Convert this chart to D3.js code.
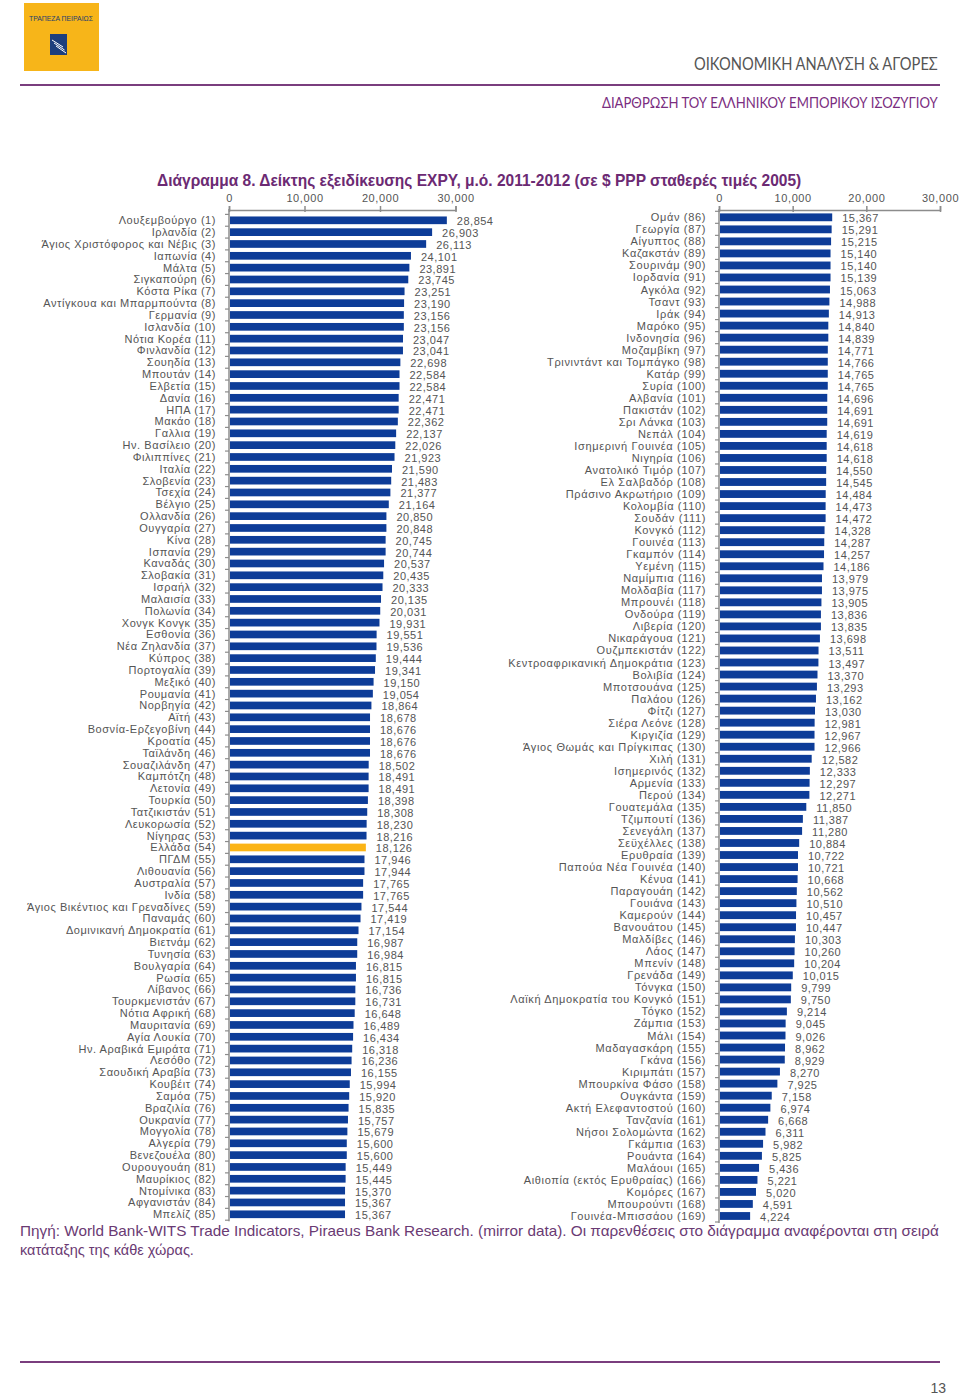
<!DOCTYPE html>
<html>
<head>
<meta charset="utf-8">
<script src="https://cdn.jsdelivr.net/npm/d3@7"></script>
<style>
  html, body { margin: 0; padding: 0; background: #fff; }
  svg { display: block; }
</style>
</head>
<body>
<div id="chart"></div>
<script>
// ---- DATA ----
const leftCategories = [
  "Λουξεμβούργο (1)", "Ιρλανδία (2)", "Άγιος Χριστόφορος και Νέβις (3)", "Ιαπωνία (4)", "Μάλτα (5)",
  "Σιγκαπούρη (6)", "Κόστα Ρίκα (7)", "Αντίγκουα και Μπαρμπούντα (8)", "Γερμανία (9)", "Ισλανδία (10)",
  "Νότια Κορέα (11)", "Φινλανδία (12)", "Σουηδία (13)", "Μπουτάν (14)", "Ελβετία (15)",
  "Δανία (16)", "ΗΠΑ (17)", "Μακάο (18)", "Γαλλια (19)", "Ην. Βασίλειο (20)",
  "Φιλιππίνες (21)", "Ιταλία (22)", "Σλοβενία (23)", "Τσεχία (24)", "Βέλγιο (25)",
  "Ολλανδία (26)", "Ουγγαρία (27)", "Κίνα (28)", "Ισπανία (29)", "Καναδάς (30)",
  "Σλοβακία (31)", "Ισραήλ (32)", "Μαλαισία (33)", "Πολωνία (34)", "Χονγκ Κονγκ (35)",
  "Εσθονία (36)", "Νέα Ζηλανδία (37)", "Κύπρος (38)", "Πορτογαλία (39)", "Μεξικό (40)",
  "Ρουμανία (41)", "Νορβηγία (42)", "Αϊτή (43)", "Βοσνία-Ερζεγοβίνη (44)", "Κροατία (45)",
  "Ταϊλάνδη (46)", "Σουαζιλάνδη (47)", "Καμπότζη (48)", "Λετονία (49)", "Τουρκία (50)",
  "Τατζικιστάν (51)", "Λευκορωσία (52)", "Νίγηρας (53)", "Ελλάδα (54)", "ΠΓΔΜ (55)",
  "Λιθουανία (56)", "Αυστραλία (57)", "Ινδία (58)", "Άγιος Βικέντιος και Γρεναδίνες (59)", "Παναμάς (60)",
  "Δομινικανή Δημοκρατία (61)", "Βιετνάμ (62)", "Τυνησία (63)", "Βουλγαρία (64)", "Ρωσία (65)",
  "Λίβανος (66)", "Τουρκμενιστάν (67)", "Νότια Αφρική (68)", "Μαυριτανία (69)", "Αγία Λουκία (70)",
  "Ην. Αραβικά Εμιράτα (71)", "Λεσόθο (72)", "Σαουδική Αραβία (73)", "Κουβέιτ (74)", "Σαμόα (75)",
  "Βραζιλία (76)", "Ουκρανία (77)", "Μογγολία (78)", "Αλγερία (79)", "Βενεζουέλα (80)",
  "Ουρουγουάη (81)", "Μαυρίκιος (82)", "Ντομίνικα (83)", "Αφγανιστάν (84)", "Μπελίζ (85)"
];
const leftValues = [
  28854, 26903, 26113, 24101, 23891, 23745, 23251, 23190, 23156, 23156,
  23047, 23041, 22698, 22584, 22584, 22471, 22471, 22362, 22137, 22026,
  21923, 21590, 21483, 21377, 21164, 20850, 20848, 20745, 20744, 20537,
  20435, 20333, 20135, 20031, 19931, 19551, 19536, 19444, 19341, 19150,
  19054, 18864, 18678, 18676, 18676, 18676, 18502, 18491, 18491, 18398,
  18308, 18230, 18216, 18126, 17946, 17944, 17765, 17765, 17544, 17419,
  17154, 16987, 16984, 16815, 16815, 16736, 16731, 16648, 16489, 16434,
  16318, 16236, 16155, 15994, 15920, 15835, 15757, 15679, 15600, 15600,
  15449, 15445, 15370, 15367, 15367
];
const rightCategories = [
  "Ομάν (86)", "Γεωργία (87)", "Αίγυπτος (88)", "Καζακστάν (89)", "Σουρινάμ (90)",
  "Ιορδανία (91)", "Αγκόλα (92)", "Τσαντ (93)", "Ιράκ (94)", "Μαρόκο (95)",
  "Ινδονησία (96)", "Μοζαμβίκη (97)", "Τρινιντάντ και Τομπάγκο (98)", "Κατάρ (99)", "Συρία (100)",
  "Αλβανία (101)", "Πακιστάν (102)", "Σρι Λάνκα (103)", "Νεπάλ (104)", "Ισημερινή Γουινέα (105)",
  "Νιγηρία (106)", "Ανατολικό Τιμόρ (107)", "Ελ Σαλβαδόρ (108)", "Πράσινο Ακρωτήριο (109)", "Κολομβία (110)",
  "Σουδάν (111)", "Κονγκό (112)", "Γουινέα (113)", "Γκαμπόν (114)", "Υεμένη (115)",
  "Ναμίμπια (116)", "Μολδαβία (117)", "Μπρουνέι (118)", "Ονδούρα (119)", "Λιβερία (120)",
  "Νικαράγουα (121)", "Ουζμπεκιστάν (122)", "Κεντροαφρικανική Δημοκράτια (123)", "Βολιβία (124)", "Μποτσουάνα (125)",
  "Παλάου (126)", "Φίτζι (127)", "Σιέρα Λεόνε (128)", "Κιργιζία (129)", "Άγιος Θωμάς και Πρίγκιπας (130)",
  "Χιλή (131)", "Ισημερινός (132)", "Αρμενία (133)", "Περού (134)", "Γουατεμάλα (135)",
  "Τζιμπουτί (136)", "Σενεγάλη (137)", "Σεϋχέλλες (138)", "Ερυθραία (139)", "Παπούα Νέα Γουινέα (140)",
  "Κένυα (141)", "Παραγουάη (142)", "Γουιάνα (143)", "Καμερούν (144)", "Βανουάτου (145)",
  "Μαλδίβες (146)", "Λάος (147)", "Μπενίν (148)", "Γρενάδα (149)", "Τόνγκα (150)",
  "Λαϊκή Δημοκρατία του Κονγκό (151)", "Τόγκο (152)", "Ζάμπια (153)", "Μάλι (154)", "Μαδαγασκάρη (155)",
  "Γκάνα (156)", "Κιριμπάτι (157)", "Μπουρκίνα Φάσο (158)", "Ουγκάντα (159)", "Ακτή Ελεφαντοστού (160)",
  "Τανζανία (161)", "Νήσοι Σολομώντα (162)", "Γκάμπια (163)", "Ρουάντα (164)", "Μαλάουι (165)",
  "Αιθιοπία (εκτός Ερυθραίας) (166)", "Κομόρες (167)", "Μπουρούντι (168)", "Γουινέα-Μπισσάου (169)"
];
const rightValues = [
  15367, 15291, 15215, 15140, 15140, 15139, 15063, 14988, 14913, 14840,
  14839, 14771, 14766, 14765, 14765, 14696, 14691, 14691, 14619, 14618,
  14618, 14550, 14545, 14484, 14473, 14472, 14328, 14287, 14257, 14186,
  13979, 13975, 13905, 13836, 13835, 13698, 13511, 13497, 13370, 13293,
  13162, 13030, 12981, 12967, 12966, 12582, 12333, 12297, 12271, 11850,
  11387, 11280, 10884, 10722, 10721, 10668, 10562, 10510, 10457, 10447,
  10303, 10260, 10204, 10015, 9799, 9750, 9214, 9045, 9026, 8962,
  8929, 8270, 7925, 7158, 6974, 6668, 6311, 5982, 5825, 5436,
  5221, 5020, 4591, 4224
];
const tickValues = [0, 10000, 20000, 30000];
const highlightCategory = "Ελλάδα (54)";

const titleText = "Διάγραμμα 8. Δείκτης εξειδίκευσης EXPY, μ.ό. 2011-2012 (σε $ PPP σταθερές τιμές 2005)";
const headerText1 = "ΟΙΚΟΝΟΜΙΚΗ ΑΝΑΛΥΣΗ & ΑΓΟΡΕΣ";
const headerText2 = "ΔΙΑΡΘΡΩΣΗ ΤΟΥ ΕΛΛΗΝΙΚΟΥ ΕΜΠΟΡΙΚΟΥ ΙΣΟΖΥΓΙΟΥ";
const logoText = "ΤΡΑΠΕΖΑ ΠΕΙΡΑΙΩΣ";
const sourceLine1 = "Πηγή: World Bank-WITS Trade Indicators, Piraeus Bank Research. (mirror data). Οι παρενθέσεις στο διάγραμμα αναφέρονται στη σειρά";
const sourceLine2 = "κατάταξης της κάθε χώρας.";
const pageNumber = "13";

// ---- DRAW ----
const W = 960, H = 1397;
const svg = d3.select("#chart").append("svg").attr("width", W).attr("height", H);

const purple = "#7a3d7e";
const titlePurple = "#6c2a73";
const barBlue = "#0d3c98";
const greeceColor = "#fbb416";
const axisGrey = "#8c8c8c";
const textGrey = "#555555";
const fmt = d3.format(",");

// Draws text condensed horizontally to a target width (like a narrow font)
function fitText(str, x, y, width, anchor, attrs) {
  const g = svg.append("g");
  const t = g.append("text").attr("x", 0).attr("y", 0).text(str);
  Object.entries(attrs).forEach(([k, v]) => t.attr(k, v));
  const w = t.node().getComputedTextLength();
  const s = width / w;
  const left = anchor === "end" ? x - width : x;
  g.attr("transform", `translate(${left},${y}) scale(${s},1)`);
  return t;
}

// Header: logo
svg.append("rect").attr("x", 24).attr("y", 3).attr("width", 75).attr("height", 68).attr("fill", "#f7b519");
fitText(logoText, 29, 21, 64, "start", {
  "font-family": "Liberation Sans, sans-serif", "font-size": 6.5, "fill": "#263f6e"
});
svg.append("rect").attr("x", 50).attr("y", 34).attr("width", 17).attr("height", 21).attr("fill", "#1d3f7d");
[0, 1, 2].forEach(i => {
  svg.append("line").attr("x1", 52 + i * 2).attr("y1", 40 + i * 3).attr("x2", 63 + i * 1.5).attr("y2", 47 + i * 3)
    .attr("stroke", "#ffffff").attr("stroke-width", 1);
});

fitText(headerText1, 938, 70, 244, "end", {
  "font-family": "Lato, Open Sans, sans-serif", "font-size": 17, "fill": "#555"
});
svg.append("line").attr("x1", 20).attr("x2", 940).attr("y1", 85).attr("y2", 85)
  .attr("stroke", purple).attr("stroke-width", 2);
fitText(headerText2, 938, 108, 336, "end", {
  "font-family": "Lato, Open Sans, sans-serif", "font-size": 14.5, "fill": "#7a2d80"
});

// Title
fitText(titleText, 157, 186, 645, "start", {
  "font-family": "Liberation Sans, sans-serif", "font-weight": "bold", "font-size": 16, "fill": titlePurple
});

function panel(cats, vals, x0, x1, yTop, yBot, labelRight, labelSpacing) {
  const x = d3.scaleLinear().domain([0, 30000]).range([x0, x1]);
  const y = d3.scaleBand().domain(cats).range([yTop, yBot]).paddingInner(0.35).paddingOuter(0.175);
  const g = svg.append("g");

  // top axis
  const ax = g.append("g").attr("transform", `translate(0,${210})`)
    .call(d3.axisTop(x).tickValues(tickValues).tickSize(4).tickFormat(d3.format(",")));
  ax.select(".domain").attr("stroke", axisGrey).attr("stroke-width", 1.5);
  ax.selectAll(".tick line").attr("stroke", axisGrey).attr("stroke-width", 1.5).attr("y1", 2).attr("y2", -4);
  ax.selectAll(".tick text").attr("font-family", "Liberation Sans, Arial, sans-serif").attr("font-size", 11)
    .attr("fill", textGrey).attr("letter-spacing", 0.6).attr("dy", -1);

  // bars
  g.selectAll("rect.bar").data(cats).enter().append("rect").attr("class", "bar")
    .attr("x", x(0) + 1).attr("y", d => y(d))
    .attr("width", (d, i) => x(vals[i]) - x(0) - 1).attr("height", y.bandwidth())
    .attr("fill", d => d === highlightCategory ? greeceColor : barBlue);

  // left axis (vertical) with ticks at band boundaries
  const step = y.step();
  g.append("line").attr("x1", x(0)).attr("x2", x(0)).attr("y1", 209).attr("y2", yBot + 1)
    .attr("stroke", axisGrey).attr("stroke-width", 1.5);
  const bounds = d3.range(cats.length + 1).map(i => yTop + i * step);
  g.selectAll("line.bt").data(bounds).enter().append("line").attr("class", "bt")
    .attr("x1", x(0) - 4).attr("x2", x(0)).attr("y1", d => d).attr("y2", d => d)
    .attr("stroke", axisGrey).attr("stroke-width", 1.2);

  // category labels
  g.selectAll("text.cat").data(cats).enter().append("text").attr("class", "cat")
    .attr("x", labelRight).attr("y", d => y(d) + y.bandwidth() / 2 + 4)
    .attr("text-anchor", "end").attr("font-family", "Liberation Sans, Arial, sans-serif")
    .attr("font-size", 11).attr("letter-spacing", labelSpacing).attr("fill", textGrey).text(d => d);

  // value labels
  g.selectAll("text.val").data(cats).enter().append("text").attr("class", "val")
    .attr("x", (d, i) => x(vals[i]) + 10).attr("y", d => y(d) + y.bandwidth() / 2 + 5)
    .attr("font-family", "Liberation Sans, Arial, sans-serif").attr("font-size", 11)
    .attr("letter-spacing", 0.5).attr("fill", textGrey).text((d, i) => fmt(vals[i]));
}

panel(leftCategories, leftValues, 229, 455.5, 214.4, 1220.2, 216, 0.55);
panel(rightCategories, rightValues, 719, 940, 211.3, 1222, 706, 0.65);

// Footer
fitText(sourceLine1, 20, 1236, 920, "start", {
  "font-family": "Liberation Sans, sans-serif", "font-size": 14, "fill": "#6a3a73"
});
fitText(sourceLine2, 20, 1255, 174, "start", {
  "font-family": "Liberation Sans, sans-serif", "font-size": 14, "fill": "#6a3a73"
});
svg.append("line").attr("x1", 20).attr("x2", 940).attr("y1", 1362).attr("y2", 1362)
  .attr("stroke", purple).attr("stroke-width", 2);
svg.append("text").attr("x", 946).attr("y", 1393).attr("text-anchor", "end")
  .attr("font-family", "Liberation Sans, sans-serif").attr("font-size", 14)
  .attr("fill", "#555").text(pageNumber);
</script>
</body>
</html>
